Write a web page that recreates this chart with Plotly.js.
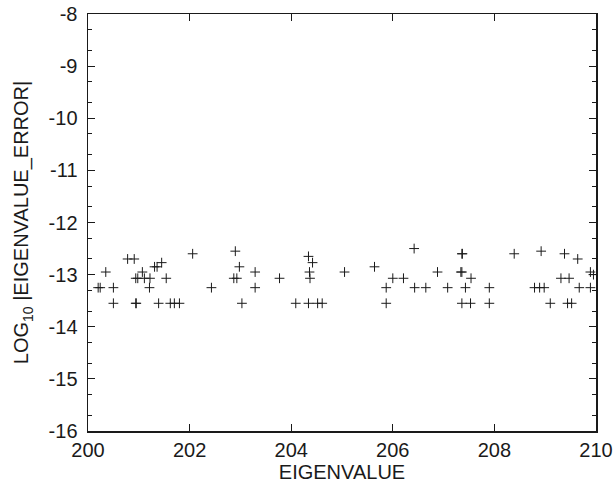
<!DOCTYPE html>
<html>
<head>
<meta charset="utf-8">
<script src="https://cdn.plot.ly/plotly-3.0.1.min.js"></script>
<style>html,body{margin:0;padding:0;background:#fff;}#chart{width:615px;height:494px;}</style>
</head>
<body>
<div id="chart"></div>
<script>
const eigenvalue = [
  200.20, 200.24, 200.35, 200.50, 200.50, 200.78, 200.91, 200.94, 200.95, 200.94,
  200.98, 201.07, 201.11, 201.22, 201.21, 201.31, 201.36, 201.45, 201.39, 201.54,
  201.62, 201.70, 201.80, 202.06, 202.43, 202.90, 202.98, 202.87, 202.93, 203.03,
  203.29, 203.29, 203.77, 204.09, 204.34, 204.42, 204.36, 204.37, 204.34, 204.52,
  204.61, 205.05, 205.64, 205.87, 205.87, 206.00, 206.21, 206.42, 206.43, 206.65,
  206.88, 207.08, 207.36, 207.37, 207.34, 207.36, 207.54, 207.43, 207.36, 207.53,
  207.90, 207.90, 208.39, 208.92, 208.79, 208.89, 208.98, 209.10, 209.38, 209.64,
  209.31, 209.47, 209.44, 209.52, 209.67, 209.89, 209.89, 209.95
];
const logError = [
  -13.25, -13.25, -12.95, -13.25, -13.55, -12.70, -12.70, -13.55, -13.55, -13.07,
  -13.07, -12.95, -13.07, -13.07, -13.25, -12.85, -12.85, -12.77, -13.55, -13.07,
  -13.55, -13.55, -13.55, -12.60, -13.25, -12.55, -12.85, -13.07, -13.07, -13.55,
  -12.95, -13.25, -13.07, -13.55, -12.65, -12.77, -12.95, -13.07, -13.55, -13.55,
  -13.55, -12.95, -12.85, -13.25, -13.55, -13.07, -13.07, -12.50, -13.25, -13.25,
  -12.95, -13.25, -12.60, -12.60, -12.95, -12.95, -13.07, -13.25, -13.55, -13.55,
  -13.25, -13.55, -12.60, -12.55, -13.25, -13.25, -13.25, -13.55, -12.60, -12.70,
  -13.07, -13.07, -13.55, -13.55, -13.25, -13.25, -12.95, -13.00
];
const xTicks = [200, 202, 204, 206, 208, 210];
const yTicks = [-16, -15, -14, -13, -12, -11, -10, -9, -8];
const yMinor = [];
for (let k = -16; k < -8; k++) { yMinor.push(k + 0.3, k + 0.7); }

const trace = {
  x: eigenvalue, y: logError, type: 'scatter', mode: 'markers',
  marker: {symbol: 'cross-thin', size: 7, color: '#000', line: {color: '#1a1a1a', width: 1}},
  hoverinfo: 'x+y'
};
const font = {family: 'Liberation Sans, Arial, sans-serif', size: 20, color: '#1a1a1a'};
const layout = {
  width: 615, height: 494,
  margin: {l: 88, r: 19, t: 14, b: 63},
  paper_bgcolor: '#fff', plot_bgcolor: '#fff',
  font: font,
  showlegend: false,
  xaxis: {
    range: [200, 210], tickmode: 'array', tickvals: xTicks, ticktext: xTicks.map(String),
    ticks: 'inside', ticklen: 7, tickwidth: 1, tickcolor: '#1a1a1a',
    showline: true, linecolor: '#1a1a1a', linewidth: 1.5, mirror: 'ticks',
    showgrid: false, zeroline: false, tickfont: font, ticklabelstandoff: 0,
    title: {text: 'EIGENVALUE', font: font, standoff: 1}
  },
  yaxis: {
    range: [-16, -8], tickmode: 'array', tickvals: yTicks, ticktext: yTicks.map(String),
    ticks: 'inside', ticklen: 7, tickwidth: 1, tickcolor: '#1a1a1a',
    minor: {tickmode: 'array', tickvals: yMinor, ticks: 'inside', ticklen: 4, tickcolor: '#1a1a1a', showgrid: false},
    showline: true, linecolor: '#1a1a1a', linewidth: 1.5, mirror: 'ticks',
    showgrid: false, zeroline: false, tickfont: font, ticklabelstandoff: 5,
    title: {text: 'LOG<sub>10</sub> |EIGENVALUE_ERROR|', font: font, standoff: 14}
  }
};
Plotly.newPlot('chart', [trace], layout, {displayModeBar: false, staticPlot: true});
</script>
</body>
</html>
